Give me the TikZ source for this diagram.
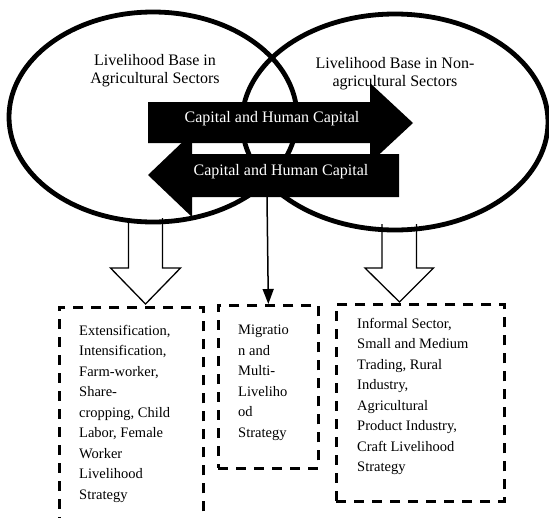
\documentclass[tikz,border=0pt]{standalone}
\usepackage{fontspec}
\setmainfont{Liberation Serif}
\usetikzlibrary{shapes.geometric,arrows.meta}
\begin{document}
\begin{tikzpicture}[x=1pt,y=-1pt,
  elli/.style={ellipse, draw, line width=4.8pt, inner sep=0pt},
  blk/.style={fill=black, draw=none},
  hollow/.style={draw, line width=1.3pt, fill=white, line join=miter},
  dbox/.style={draw, line width=2.7pt, dash pattern=on 10pt off 8pt, inner sep=0pt},
  etext/.style={font=\fontsize{16}{18}\selectfont, align=center, inner sep=0pt, anchor=north},
  wtext/.style={font=\fontsize{16}{18}\selectfont, text=white, inner sep=0pt},
  btext/.style={font=\fontsize{14.5}{20.5}\selectfont, align=left, inner sep=0pt, anchor=north west},
  thin/.style={line width=1.5pt, -{Triangle[length=15pt,width=11pt]}}]
\clip (0,0) rectangle (549,517);
\fill[white] (0,0) rectangle (549,517);
% dashed boxes
\node[dbox, minimum width=144pt, minimum height=240pt, anchor=north west] (b1) at (58,306) {};
\node[dbox, minimum width=100pt, minimum height=163pt, anchor=north west] (b2) at (217,304) {};
\node[dbox, minimum width=168pt, minimum height=197pt, anchor=north west] (b3) at (335,303) {};
% hollow arrows
\coordinate (t1) at (145.5,304);
\coordinate (t3) at (399.5,302);
\draw[hollow] (t1) ++(-17,-86) -- ++(0,50) -- ++(-18,0) -- (t1) -- ++(35,-36) -- ++(-18,0) -- ++(0,-50);
\draw[hollow] (t3) ++(-17.5,-78) -- ++(0,44) -- ++(-17,0) -- (t3) -- ++(34,-34) -- ++(-17,0) -- ++(0,-44);
% ellipses
\node[elli, minimum width=288pt, minimum height=210pt] (agr) at (153,117) {};
\node[elli, minimum width=306pt, minimum height=216pt] (non) at (395,122) {};
% black arrows
\fill[blk] (148,102) -- (370,102) -- (370,83) -- (413,123) -- (370,163) -- (370,143) -- (148,143) -- cycle;
\fill[blk] (399,154) -- (192,154) -- (192,133) -- (148,175) -- (192,217) -- (192,197) -- (399,197) -- cycle;
\node[wtext] (c1) at (272,119) {Capital and Human Capital};
\node[wtext] (c2) at (281,172) {Capital and Human Capital};
% middle arrow
\coordinate (m0) at (267,197);
\draw[thin] (m0) -- (b2.north);
% ellipse texts
\node[etext] (l1) at (155,54) {Livelihood Base in\\Agricultural Sectors};
\node[etext] (l2) at (395,57) {Livelihood Base in Non-\\agricultural Sectors};
% box texts
\node[btext] (x1) at (79,324.7) {Extensification,\\Intensification,\\Farm-worker,\\Share-\\cropping, Child\\Labor, Female\\Worker\\Livelihood\\Strategy};
\node[btext] (x2) at (238,324.7) {Migratio\\n and\\Multi-\\Liveliho\\od\\Strategy};
\node[btext] (x3) at (357,317.6) {Informal Sector,\\Small and Medium\\Trading, Rural\\Industry,\\Agricultural\\Product Industry,\\Craft Livelihood\\Strategy};
\end{tikzpicture}
\end{document}
